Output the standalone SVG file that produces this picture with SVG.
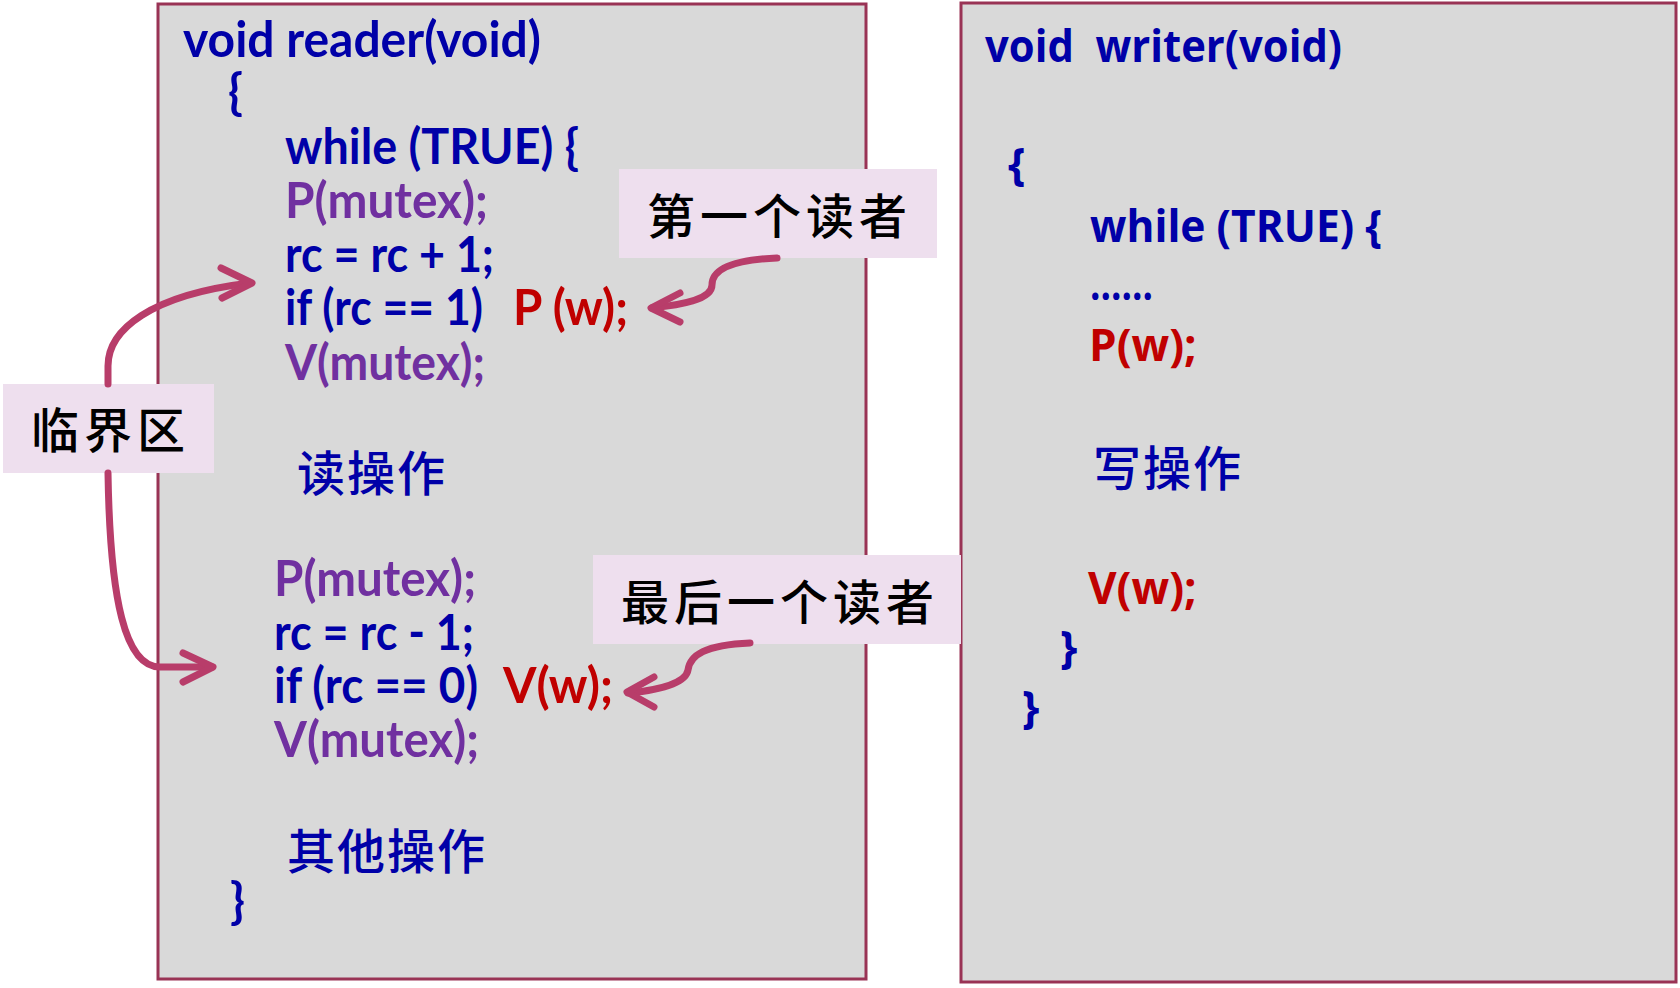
<svg xmlns="http://www.w3.org/2000/svg" width="1680" height="988" viewBox="0 0 1680 988">
<style>
.box{fill:#D9D9D9;stroke:#993355;stroke-width:3}
.callout{fill:#EEDFEE}
.c{font-family:Lato,"Open Sans",sans-serif;font-weight:700;font-size:49px}
.w{font-family:"Open Sans","DejaVu Sans",sans-serif;font-weight:700;font-size:44px}
.blue{fill:#0000A8}
.purple{fill:#7030A0}
.red{fill:#C00000}
.cjk{font-family:"Noto Sans CJK SC",sans-serif;font-size:48px;font-weight:500;letter-spacing:2px}
.lbl{font-family:"Noto Sans CJK SC",sans-serif;font-size:48px;font-weight:500;fill:#000;letter-spacing:5px}
.arrow{fill:none;stroke:#B83D6A;stroke-width:7;stroke-linecap:round;stroke-linejoin:round}
</style>
<rect width="1680" height="988" fill="#FFFFFF"/>
<g id="reader">
<rect class="box" x="158" y="4" width="708" height="975"/>
<text class="c blue" x="183" y="57" textLength="358" lengthAdjust="spacingAndGlyphs">void reader(void)</text>
<text class="c blue" x="228" y="109">{</text>
<text class="c blue" x="285" y="164" textLength="294" lengthAdjust="spacingAndGlyphs">while (TRUE) {</text>
<text class="c purple" x="285" y="218" textLength="203" lengthAdjust="spacingAndGlyphs">P(mutex);</text>
<text class="c blue" x="285" y="272" textLength="209" lengthAdjust="spacingAndGlyphs">rc = rc + 1;</text>
<text class="c blue" x="285" y="325" textLength="198" lengthAdjust="spacingAndGlyphs">if (rc == 1)</text>
<text class="c red" x="513" y="325" textLength="115" lengthAdjust="spacingAndGlyphs">P (w);</text>
<text class="c purple" x="285" y="380" textLength="200" lengthAdjust="spacingAndGlyphs">V(mutex);</text>
<text class="cjk blue" x="297" y="491">读操作</text>
<text class="c purple" x="274" y="596" textLength="202" lengthAdjust="spacingAndGlyphs">P(mutex);</text>
<text class="c blue" x="274" y="650" textLength="200" lengthAdjust="spacingAndGlyphs">rc = rc - 1;</text>
<text class="c blue" x="274" y="703" textLength="204" lengthAdjust="spacingAndGlyphs">if (rc == 0)</text>
<text class="c red" x="503" y="703" textLength="110" lengthAdjust="spacingAndGlyphs">V(w);</text>
<text class="c purple" x="274" y="757" textLength="205" lengthAdjust="spacingAndGlyphs">V(mutex);</text>
<text class="cjk blue" x="287" y="869">其他操作</text>
<text class="c blue" x="230" y="918">}</text>
</g>
<g id="writer">
<rect class="box" x="961" y="3" width="715" height="979"/>
<text class="w blue" x="985" y="62" xml:space="preserve" style="white-space:pre" textLength="357" lengthAdjust="spacingAndGlyphs">void  writer(void)</text>
<text class="w blue" x="1008" y="180">{</text>
<text class="w blue" x="1090" y="242" textLength="292" lengthAdjust="spacingAndGlyphs">while (TRUE) {</text>
<text class="w blue" x="1090" y="300" textLength="63" lengthAdjust="spacingAndGlyphs">……</text>
<text class="w red" x="1089" y="361">P(w);</text>
<text class="cjk blue" x="1093" y="486">写操作</text>
<text class="w red" x="1088" y="604">V(w);</text>
<text class="w blue" x="1060" y="663">}</text>
<text class="w blue" x="1022" y="723">}</text>
</g>
<g id="callout-first">
<rect class="callout" x="619" y="169" width="318" height="89"/>
<text class="lbl" x="647" y="234">第一个读者</text>
</g>
<g id="callout-last">
<rect class="callout" x="593" y="555" width="368" height="89"/>
<text class="lbl" x="621" y="620">最后一个读者</text>
</g>
<g id="callout-critical">
<rect class="callout" x="3" y="384" width="211" height="89"/>
<text class="lbl" x="31" y="448">临界区</text>
</g>
<g id="connectors">
<path class="arrow" d="M108 384 V366 C108 330 150 295 250 283"/>
<polyline class="arrow" points="221,268 252,283 222,298"/>
<path class="arrow" d="M108 473 C110 600 125 667 160 667 L212 667"/>
<polyline class="arrow" points="183,653 213,667 183,682"/>
<path class="arrow" d="M777 258 C730 260 712 270 712 285 C712 300 680 305 652 308"/>
<polyline class="arrow" points="680,293 651,308 680,322"/>
<path class="arrow" d="M750 643 C705 645 690 655 688 670 C686 683 660 690 628 693"/>
<polyline class="arrow" points="654,677 627,692 654,707"/>
</g>
</svg>
